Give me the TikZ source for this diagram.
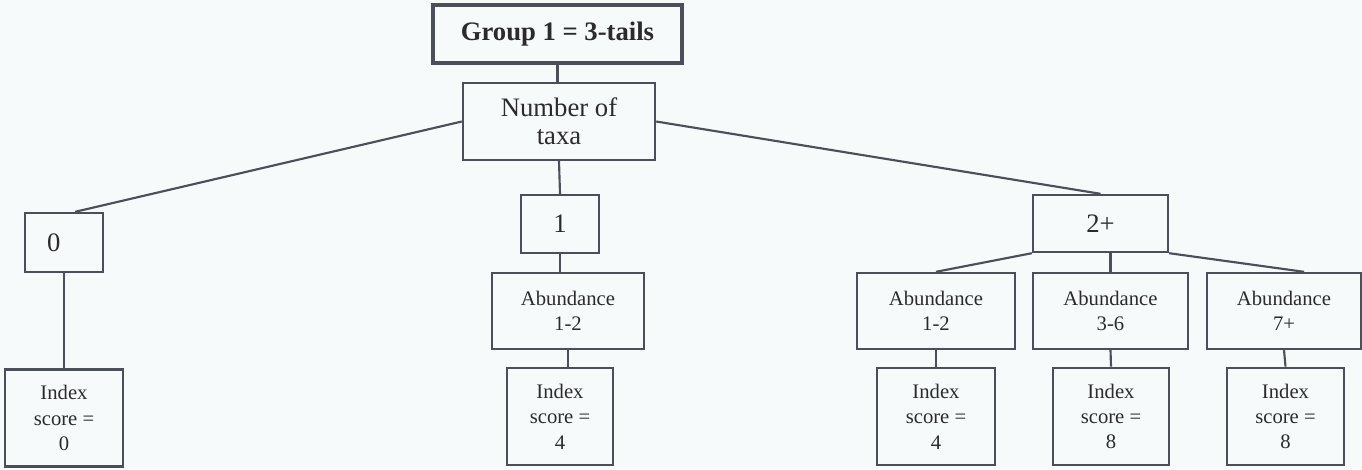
\documentclass[tikz,border=0pt]{standalone}
\usepackage{fontspec}
\setmainfont{Liberation Serif}
\definecolor{treeline}{HTML}{4B5058}
\definecolor{treetext}{HTML}{2B2B2B}
\definecolor{treepaper}{HTML}{F7FAFB}
\tikzset{
  box/.style={draw=treeline, line width=1.8pt, text=treetext, align=center, inner sep=0pt},
  bigbox/.style={box, font=\fontsize{20}{21}\selectfont},
  smallbox/.style={box, font=\fontsize{15.5}{19}\selectfont},
  abbox/.style={smallbox, minimum height=57pt},
  scorebox/.style={smallbox, minimum height=73pt},
  link/.style={draw=treeline, line width=1.6pt},
}

\begin{document}
\begin{tikzpicture}[x=0.75pt, y=-0.75pt]
\fill[treepaper] (0,0) rectangle (1362,469);
\useasboundingbox (0,0) rectangle (1362,469);

% top of the tree
\node[bigbox, line width=2.8pt, font=\bfseries\fontsize{20}{21}\selectfont,
      minimum width=186.75pt, minimum height=43.5pt] (group) at (557.5,34) {Group 1 = 3-tails};
\node[bigbox, minimum width=144pt, minimum height=57.75pt] (taxa) at (559,121.5) {Number of\\taxa};

% number of taxa
\node[bigbox, align=left, text width=25.5pt, minimum width=58.5pt, minimum height=44.25pt] (n0) at (64,242.5) {0};
\node[bigbox, minimum width=58.5pt, minimum height=43.5pt] (n1) at (560,224) {1};
\node[bigbox, minimum width=101.25pt, minimum height=42.75pt] (n2) at (1100.5,223.5) {2+};

% abundance
\node[abbox, minimum width=114pt] (ab1) at (568,311) {Abundance\\1-2};
\node[abbox, minimum width=118.5pt] (ab2) at (936,311) {Abundance\\1-2};
\node[abbox, minimum width=116.25pt] (ab3) at (1110.5,311) {Abundance\\3-6};
\node[abbox, minimum width=115.5pt] (ab4) at (1284,311) {Abundance\\7+};

% index scores
\node[scorebox, minimum width=88.5pt] (sc0) at (64,418) {Index\\score =\\0};
\node[scorebox, minimum width=79.5pt] (sc1) at (560,416.5) {Index\\score =\\4};
\node[scorebox, minimum width=88.5pt] (sc2) at (936,416.5) {Index\\score =\\4};
\node[scorebox, minimum width=87pt] (sc3) at (1111,416.5) {Index\\score =\\8};
\node[scorebox, minimum width=87.75pt] (sc4) at (1285.5,416.5) {Index\\score =\\8};

% connectors
\draw[link] (group.south) -- (group.south |- taxa.north);
\draw[link] (taxa.west) -- (n0.70);
\draw[link] (taxa.south) -- (n1.north);
\draw[link] (taxa.east) -- (n2.north);
\draw[link] (n0.south) -- (sc0.north);
\draw[link] (n1.south) -- (n1.south |- ab1.north);
\draw[link] (ab1.south) -- (ab1.south |- sc1.north);
\draw[link] (n2.south west) -- (ab2.north);
\draw[link] (ab3.north |- n2.south) -- (ab3.north);
\draw[link] (n2.south east) -- (ab4.63);
\draw[link] (ab2.south) -- (sc2.north);
\draw[link] (ab3.south) -- (sc3.north);
\draw[link] (ab4.south) -- (sc4.north);
\end{tikzpicture}
\end{document}
